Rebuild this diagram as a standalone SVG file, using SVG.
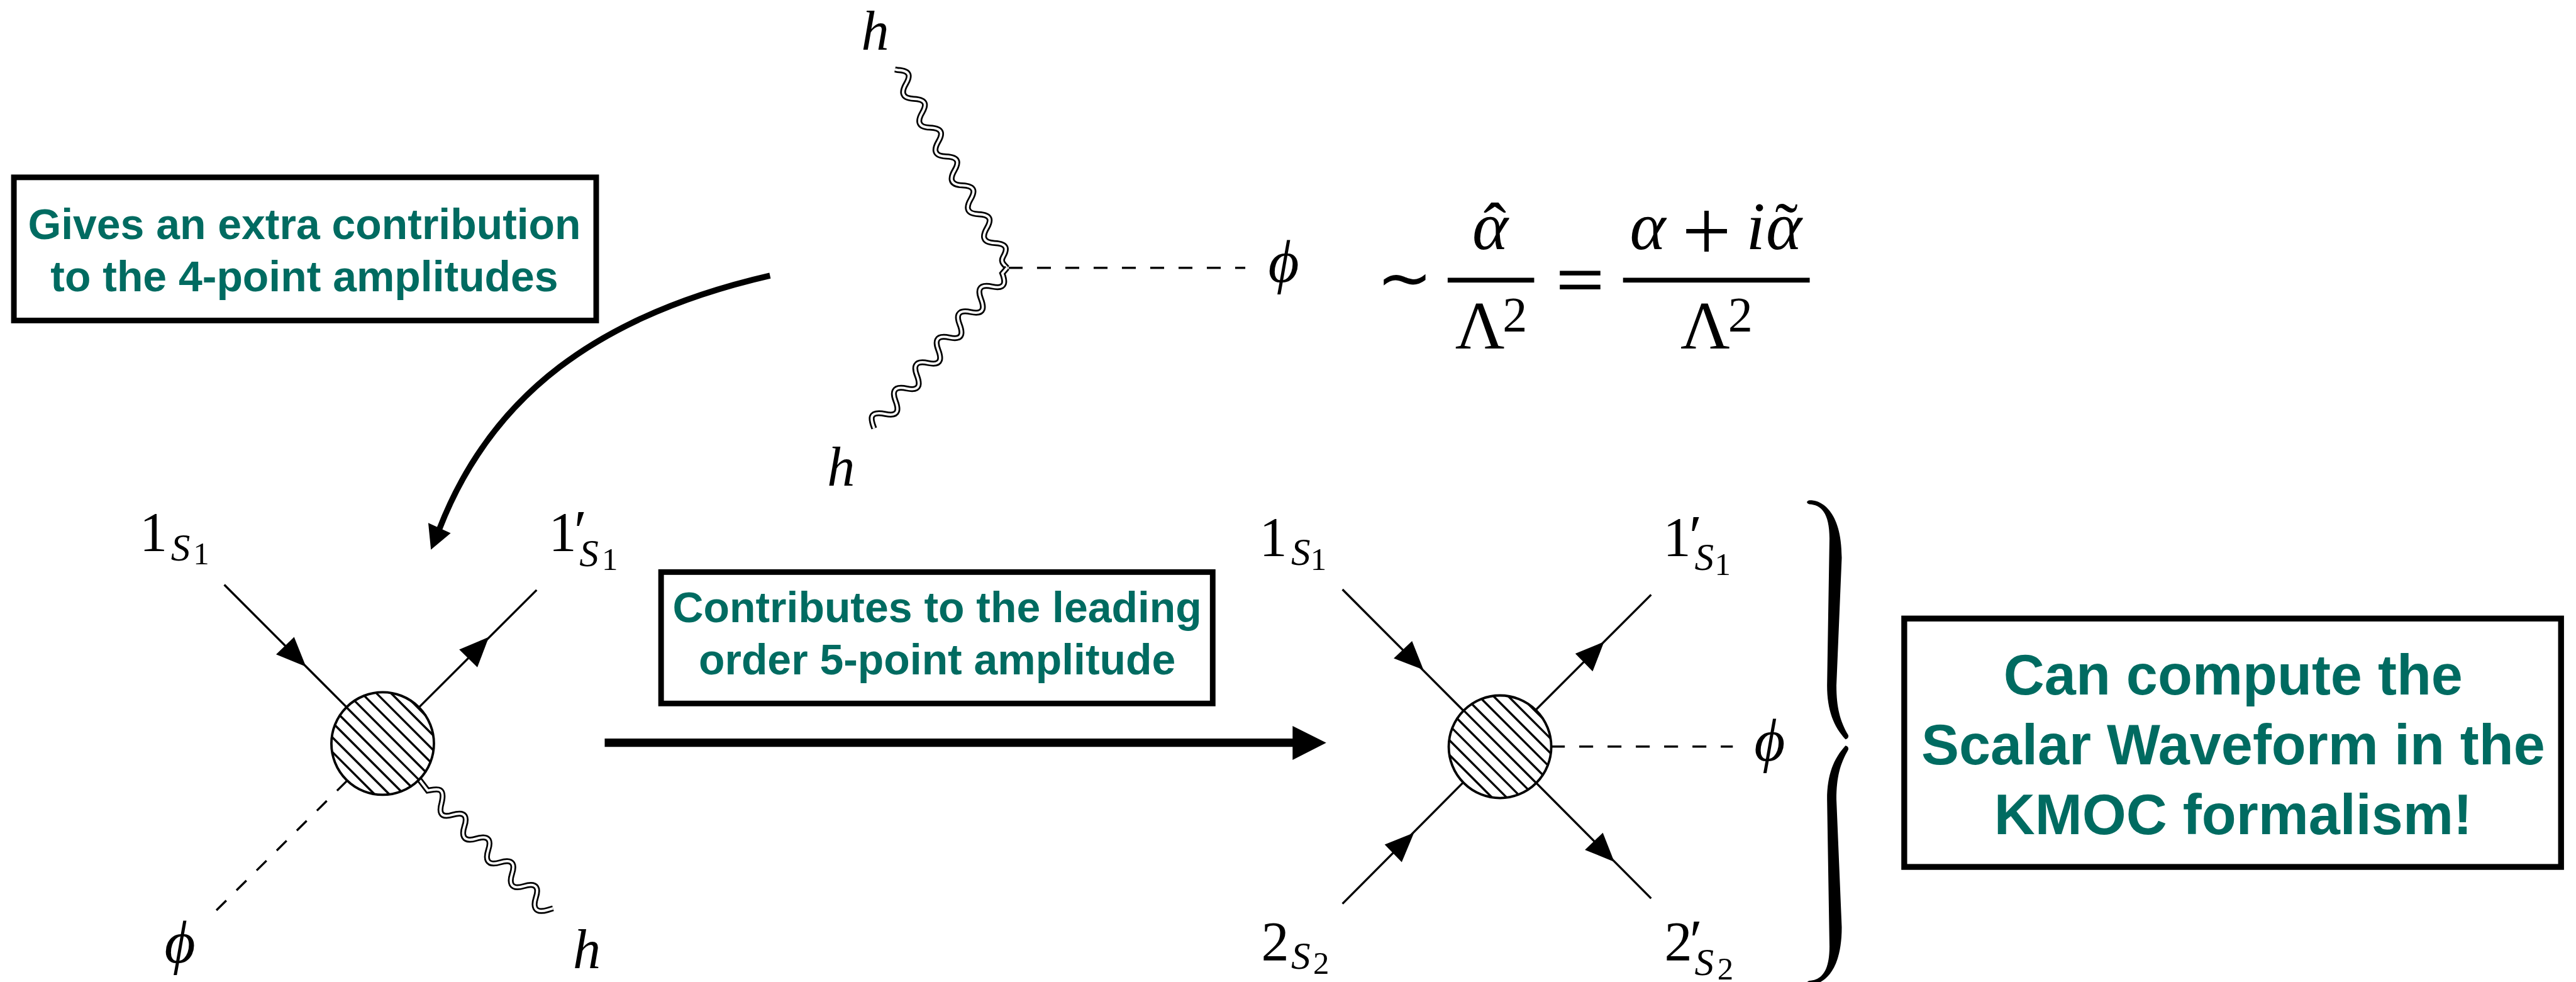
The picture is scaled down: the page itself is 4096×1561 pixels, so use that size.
<svg xmlns="http://www.w3.org/2000/svg" width="4096" height="1561" viewBox="0 0 4096 1561">
<style>
text{font-family:"Liberation Serif","Times New Roman",serif;fill:#000}
.i{font-style:italic}
.big{font-size:104px}
.s{font-size:72px;font-style:italic}
.ss{font-size:60px}
.pr{font-size:110px}
.ph{font-size:112px;font-style:italic}
.f{font-size:128px}
.b{font-family:"Liberation Sans",Arial,sans-serif;font-weight:700;fill:#006b61;text-anchor:middle}
.b80{font-size:80px}
.b106{font-size:106px}
.box{fill:#fff;stroke:#000;stroke-width:10.5}
.ln{fill:none;stroke:#000;stroke-width:4}
.da{fill:none;stroke:#000;stroke-width:4;stroke-dasharray:26 27}
.wo{fill:none;stroke:#000;stroke-width:11}
.wi{fill:none;stroke:#fff;stroke-width:4.5}
.k{fill:#000}
</style>
<defs>
<path id="w1" d="M1676,130L1680.7,131c26,1 23.5,12.8 16,25.8c-7,12 -11.7,27.2 14.3,28.2c26,1 23.5,12.8 16,25.8c-7,12 -11.7,27.2 14.3,28.2c26,1 23.5,12.8 16,25.8c-7,12 -11.7,27.2 14.3,28.2c26,1 23.5,12.8 16,25.8c-7,12 -11.7,27.2 14.3,28.2c26,1 23.5,12.8 16,25.8c-7,12 -11.7,27.2 14.3,28.2c26,1 23.5,12.8 16,25.8c-7,12 -11.7,27.2 14.3,28.2c26,1 23.5,12.8 16,25.8C1873,490 1880,495 1886,501.5"/>
<path id="w2" d="M1637,802C1633,790 1622,768 1658,775c28,6 24,-11.6 19,-24.6c-5,-13 -7,-29.1 21,-23.1c28,6 24,-11.6 19,-24.6c-5,-13 -7,-29.1 21,-23.1c28,6 24,-11.6 19,-24.6c-5,-13 -7,-29.1 21,-23.1c28,6 24,-11.6 19,-24.6c-5,-13 -7,-29.1 21,-23.1c28,6 24,-11.6 19,-24.6c-5,-13 -7,-29.1 21,-23.1c28,6 24,-11.6 19,-24.6L1886,501.5"/>
<path id="w3" d="M785,1459L801,1480C815,1478 835,1470 827,1503C823,1517 822,1533 847.3,1525.5c27,-8 27.3,6.7 22.3,21.7c-4.5,14 -4.7,30.8 22.3,22.8c27,-8 27.3,6.7 22.3,21.7c-4.5,14 -4.7,30.8 22.3,22.8c27,-8 27.3,6.7 22.3,21.7c-4.5,14 -4.7,30.8 22.3,22.8c27,-8 27.3,6.7 22.3,21.7c-4.5,14 -4.7,30.8 22.3,22.8l10,-3"/>
<g id="blob">
<circle r="96" fill="#fff" stroke="#000" stroke-width="4.5"/>
<path class="ln" d="M-67.9,-67.9L67.9,67.9M-80.2,-52.7L52.7,80.2M-89.6,-34.6L34.6,89.6M-95.2,-12.65L12.65,95.2M-94.8,15.2L-15.2,94.8M-52.7,-80.2L80.2,52.7M-34.6,-89.6L89.6,34.6M-12.65,-95.2L95.2,12.65M15.2,-94.8L94.8,-15.2M52.9,-80.1L80.1,-52.9"/>
</g>
<path id="brace" d="M3387,937C3400,934 3449,945 3449,1044L3439,1283C3439,1325 3446,1350 3461,1376Q3463,1382 3456,1384C3434,1360 3421.5,1330 3421.5,1283L3426,1008C3426,960 3410,945 3388,944Q3380,940 3387,937Z"/>
</defs>
<g transform="scale(0.84909)">
<g id="connectors">
<path class="da" d="M1889,501.5H2332"/>
<use href="#w1" class="wo"/><use href="#w1" class="wi"/>
<use href="#w2" class="wo"/><use href="#w2" class="wi"/>
<path class="ln" d="M420,1094.7L649.6,1324.5M1005,1104.6L785.5,1323.3"/>
<polygon class="k" points="573,1248 550.8,1192.6 517,1225"/>
<polygon class="k" points="915.5,1192.6 860,1216 893.9,1249.4"/>
<path class="da" d="M649.6,1462L402.8,1706.6"/>
<use href="#w3" class="wo"/><use href="#w3" class="wi"/>
<path class="ln" d="M2514,1103.5L2740,1330M3092,1113.4L2876,1329M2514,1692L2740,1465M3092,1682L2876,1465"/>
<polygon class="k" points="2665.7,1254 2644.3,1200 2610,1232.4"/>
<polygon class="k" points="3004,1201.4 2950,1223.6 2982.5,1257"/>
<polygon class="k" points="2648,1559 2593,1581 2625,1614"/>
<polygon class="k" points="3023,1613.4 3001.6,1559 2968,1591"/>
<path class="da" d="M2904.4,1397.7H3245"/>
<path fill="none" stroke="#000" stroke-width="11" d="M1442,516C1120,590 920,740 823,990"/>
<polygon class="k" points="807,1029 802,979 844,998"/>
<path fill="none" stroke="#000" stroke-width="15.7" d="M1132.4,1390.5H2425"/>
<polygon class="k" points="2483.6,1390.7 2420.6,1359 2420.6,1422.7"/>
</g>
<g id="label-h-top"><text class="big i" x="1613" y="92.7">h</text></g>
<g id="label-h-bottom"><text class="big i" x="1549" y="909">h</text></g>
<g id="label-phi-top"><text class="ph" x="2375" y="528">ϕ</text></g>
<g id="formula">
<text class="f" x="2578" y="563" style="font-size:125px">∼</text>
<text class="f i" x="2757" y="466.7">α</text>
<text class="f" x="2778" y="467">ˆ</text>
<rect class="k" x="2711" y="520" width="162" height="9"/>
<text class="f" x="2725" y="652.7">Λ<tspan x="2814" y="620" style="font-size:92px">2</tspan></text>
<rect class="k" x="2921" y="507" width="76" height="8.7"/>
<rect class="k" x="2921" y="533" width="76" height="8.7"/>
<text class="f i" x="3052" y="466.7">α<tspan x="3149.6" y="487" style="font-style:normal;font-size:164px">+</tspan><tspan x="3270" y="466.7">i</tspan><tspan x="3307" y="466.7">α</tspan></text>
<text class="f" x="3324" y="467">˜</text>
<rect class="k" x="3039.4" y="520" width="349.6" height="9"/>
<text class="f" x="3147" y="652.7">Λ<tspan x="3236" y="620" style="font-size:92px">2</tspan></text>
</g>
<g id="box-gives">
<rect class="box" x="26" y="332" width="1090.5" height="268"/>
<text class="b b80" x="570" y="447">Gives an extra contribution</text>
<text class="b b80" x="570" y="545.5">to the 4-point amplitudes</text>
</g>
<g id="box-contributes">
<rect class="box" x="1238" y="1071" width="1033" height="246"/>
<text class="b b80" x="1755" y="1165">Contributes to the leading</text>
<text class="b b80" x="1755" y="1263">order 5-point amplitude</text>
</g>
<g id="box-kmoc">
<rect class="box" style="stroke-width:11" x="3566" y="1158" width="1230" height="465"/>
<text class="b b106" x="4182" y="1300">Can compute the</text>
<text class="b b106" x="4182" y="1431">Scalar Waveform in the</text>
<text class="b b106" x="4182" y="1561.7">KMOC formalism!</text>
</g>
<g id="blob-left"><use href="#blob" x="716.6" y="1392"/>
<text class="big" x="261.5" y="1030">1<tspan class="s" x="320" y="1049">S</tspan><tspan class="ss" x="362" y="1056">1</tspan></text>
<text class="big" x="1027.5" y="1030">1<tspan class="pr" x="1075" y="1030">′</tspan><tspan class="s" x="1085" y="1059.5">S</tspan><tspan class="ss" x="1127" y="1066.5">1</tspan></text>
<text class="ph" x="308" y="1802">ϕ</text>
<text class="big i" x="1073" y="1812">h</text>
</g>
<g id="blob-right"><use href="#blob" x="2809" y="1398"/>
<text class="big" x="2358.5" y="1040">1<tspan class="s" x="2418" y="1058">S</tspan><tspan class="ss" x="2454" y="1066.5">1</tspan></text>
<text class="big" x="3114.5" y="1040">1<tspan class="pr" x="3163" y="1040">′</tspan><tspan class="s" x="3173.5" y="1066.5">S</tspan><tspan class="ss" x="3211" y="1077">1</tspan></text>
<text class="big" x="2362" y="1797.5">2<tspan class="s" x="2418" y="1814">S</tspan><tspan class="ss" x="2459" y="1823">2</tspan></text>
<text class="big" x="3117" y="1797.5">2<tspan class="pr" x="3164" y="1797.5">′</tspan><tspan class="s" x="3173.5" y="1825.6">S</tspan><tspan class="ss" x="3216" y="1834">2</tspan></text>
<text class="ph" x="3285" y="1424">ϕ</text>
</g>
<g id="brace-group">
<use href="#brace" class="k"/>
<use href="#brace" class="k" transform="translate(0,2780) scale(1,-1)"/>
</g>
</g>
</svg>
